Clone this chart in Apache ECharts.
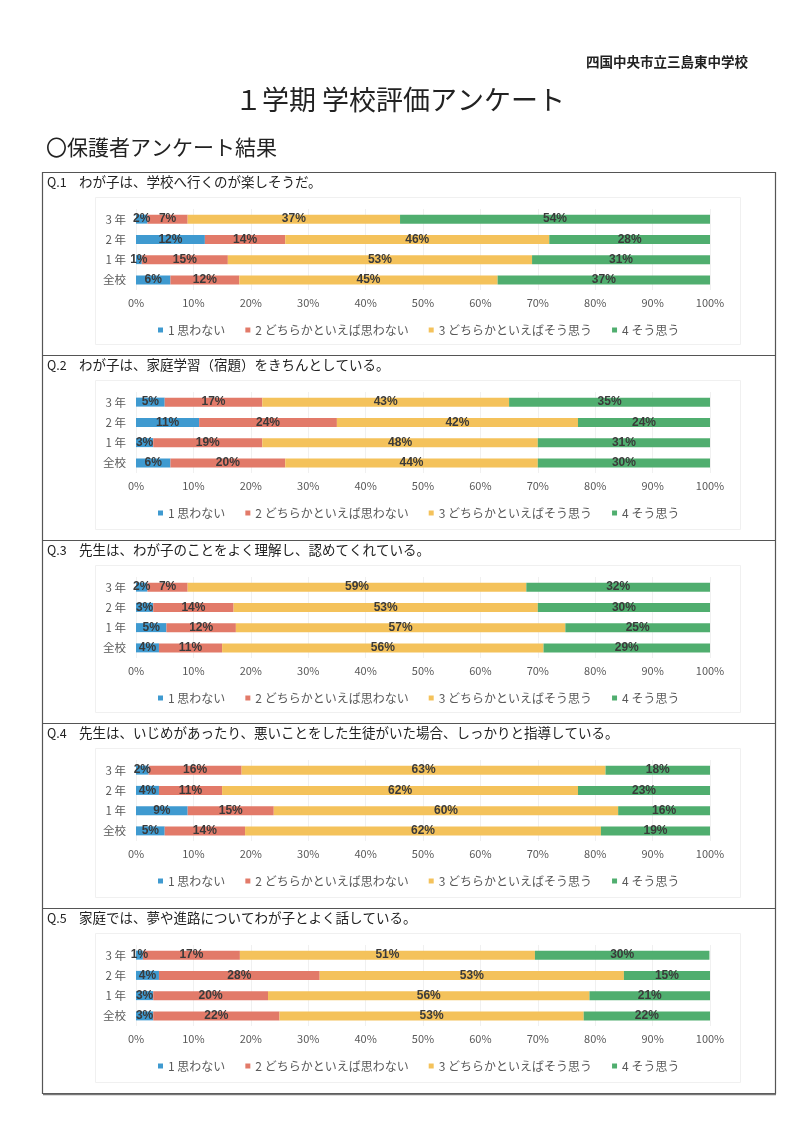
<!DOCTYPE html>
<html><head><meta charset="utf-8">
<script src="https://cdn.jsdelivr.net/npm/echarts@6/dist/echarts.min.js"></script>
<style>html,body{margin:0;padding:0;background:#fff}#c{width:800px;height:1131px}</style>
</head><body><div id="c"></div>
<script>
const categories = ['全校', '1 年', '2 年', '3 年'];
const seriesNames = ['1 思わない', '2 どちらかといえば思わない', '3 どちらかといえばそう思う', '4 そう思う'];
const colors = ['#3f9ad0', '#e27a69', '#f4c25b', '#50ae6f'];
const questions = [
  'わが子は、学校へ行くのが楽しそうだ。',
  'わが子は、家庭学習（宿題）をきちんとしている。',
  '先生は、わが子のことをよく理解し、認めてくれている。',
  '先生は、いじめがあったり、悪いことをした生徒がいた場合、しっかりと指導している。',
  '家庭では、夢や進路についてわが子とよく話している。'
];
// values (%) per series, category order: 全校, 1年, 2年, 3年
const q1s1 = [6, 1, 12, 2],    q1s2 = [12, 15, 14, 7],     q1s3 = [45, 53, 46, 37],     q1s4 = [37, 31, 28, 54];
const q2s1 = [6, 3, 11, 5],    q2s2 = [20, 19, 24, 17],    q2s3 = [44, 48, 42, 43],     q2s4 = [30, 31, 24, 35];
const q3s1 = [4, 5.3, 3, 2],   q3s2 = [11, 12.1, 14, 7],   q3s3 = [56, 57.4, 53, 59],   q3s4 = [29, 25.2, 30, 32];
const q4s1 = [5, 9, 4, 2.2],   q4s2 = [14, 15, 11, 16.2],  q4s3 = [62, 60, 62, 63.4],   q4s4 = [19, 16, 23, 18.2];
const q5s1 = [3, 3, 4, 1.2],   q5s2 = [22, 20, 28, 16.9],  q5s3 = [53, 56, 53, 51.4],   q5s4 = [22, 21, 15, 30.4];
const qData = [[q1s1,q1s2,q1s3,q1s4],[q2s1,q2s2,q2s3,q2s4],[q3s1,q3s2,q3s3,q3s4],[q4s1,q4s2,q4s3,q4s4],[q5s1,q5s2,q5s3,q5s4]];

const tops = [172, 355, 540, 723, 908];
const bottom = 1093;
const FONT = '"Noto Sans CJK JP", "Noto Sans", sans-serif';

const grids = [], xAxes = [], yAxes = [], series = [], legends = [], graphics = [];
graphics.push({type:'text', right: 52, top: 55, style:{text:'四国中央市立三島東中学校', font:'bold 13.5px ' + FONT, fill:'#222'}});
graphics.push({type:'text', left: 'center', top: 86, style:{text:'１学期 学校評価アンケート', font:'27px ' + FONT, fill:'#222'}});
graphics.push({type:'text', left: 46, top: 137, style:{text:'〇保護者アンケート結果', font:'21px ' + FONT, fill:'#222'}});
graphics.push({type:'rect', shape:{x:42.5, y:172.5, width:733, height:921}, style:{fill:'none', stroke:'#555', lineWidth:1.2}});
graphics.push({type:'line', shape:{x1:43, y1:1094.5, x2:776, y2:1094.5}, style:{stroke:'#777', lineWidth:1.5}});

for (let i = 0; i < 5; i++) {
  const T = tops[i];
  const next = i < 4 ? tops[i+1] : bottom;
  if (i > 0) graphics.push({type:'line', shape:{x1:42.5, y1:T+0.5, x2:775.5, y2:T+0.5}, style:{stroke:'#555', lineWidth:1.2}});
  graphics.push({type:'rect', shape:{x:95.5, y:T+25.5, width:645, height:next-T-36}, style:{fill:'none', stroke:'#f0f0f0', lineWidth:1}});
  graphics.push({type:'text', left:47, top:T+4, style:{text:'Q.' + (i+1), font:'12.5px ' + FONT, fill:'#222'}});
  graphics.push({type:'text', left:79, top:T+3, style:{text:questions[i], font:'13.5px ' + FONT, fill:'#222'}});

  grids.push({left:136, right:90, top:T+37, height:81, containLabel:false});
  xAxes.push({type:'value', gridIndex:i, min:0, max:100, interval:10,
    axisLine:{show:false}, axisTick:{show:false},
    splitLine:{show:true, lineStyle:{color:'#f0f0f0', width:1}},
    axisLabel:{formatter:'{value}%', color:'#595959', fontSize:11, margin:7, fontFamily:FONT}});
  yAxes.push({type:'category', gridIndex:i, data:categories,
    axisLine:{show:false}, axisTick:{show:false},
    axisLabel:{color:'#595959', fontSize:11.5, margin:10, fontFamily:FONT}});
  for (let s = 0; s < 4; s++) {
    series.push({type:'bar', name:seriesNames[s], xAxisIndex:i, yAxisIndex:i, stack:'q'+i,
      data:qData[i][s], barWidth:9, itemStyle:{color:colors[s]},
      label:{show:true, position:'inside', formatter:(p) => Math.round(p.value) + '%', color:'#3a3a3a', fontWeight:'bold',
        fontSize:12, fontFamily:'"Liberation Sans", Arial, sans-serif'},
      emphasis:{disabled:true}, animation:false});
  }
  legends.push({data:seriesNames, left:153, top:T+147, icon:'rect', itemWidth:5, itemHeight:5,
    itemGap:20, textStyle:{color:'#595959', fontSize:12, fontFamily:FONT}, selectedMode:false});
}

const chart = echarts.init(document.getElementById('c'), null, {renderer:'canvas'});
chart.setOption({
  backgroundColor:'#ffffff', animation:false,
  grid:grids, xAxis:xAxes, yAxis:yAxes, series:series, legend:legends, graphic:graphics
});
</script></body></html>
